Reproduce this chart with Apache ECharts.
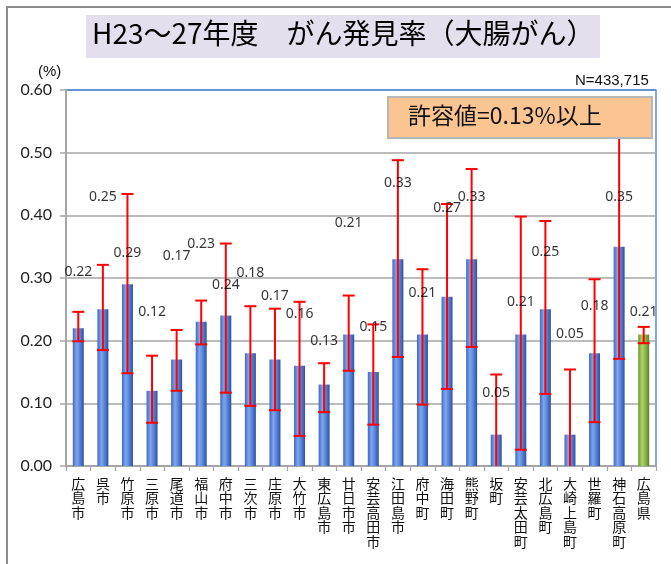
<!DOCTYPE html>
<html>
<head>
<meta charset="utf-8">
<script src="https://cdn.jsdelivr.net/npm/echarts@6/dist/echarts.min.js"></script>
<style>
  html, body { margin: 0; padding: 0; background: #fff; }
  #chart { width: 671px; height: 564px; }
</style>
</head>
<body>
<div id="chart"></div>
<script>
// 市町別 がん発見率（大腸がん） H23～27年度
const municipalities = ['広島市', '呉市', '竹原市', '三原市', '尾道市', '福山市', '府中市', '三次市',
  '庄原市', '大竹市', '東広島市', '廿日市市', '安芸高田市', '江田島市', '府中町', '海田町', '熊野町',
  '坂町', '安芸太田町', '北広島町', '大崎上島町', '世羅町', '神石高原町', '広島県'];

// 発見率 (%)
const detectionRate = [0.22, 0.25, 0.29, 0.12, 0.17, 0.23, 0.24, 0.18, 0.17, 0.16, 0.13, 0.21,
  0.15, 0.33, 0.21, 0.27, 0.33, 0.05, 0.21, 0.25, 0.05, 0.18, 0.35, 0.21];

// 95%信頼区間 下限・上限 (%)
const ciLower = [0.199, 0.185, 0.148, 0.069, 0.120, 0.194, 0.117, 0.096, 0.089, 0.048, 0.086, 0.152,
  0.066, 0.174, 0.098, 0.123, 0.190, -0.046, 0.026, 0.115, -0.054, 0.070, 0.171, 0.196];
const ciUpper = [0.246, 0.321, 0.434, 0.176, 0.217, 0.264, 0.355, 0.255, 0.251, 0.262, 0.164, 0.272,
  0.226, 0.488, 0.314, 0.418, 0.474, 0.146, 0.398, 0.391, 0.154, 0.298, 0.560, 0.222];

// 数値ラベルを置く高さ (%)
const labelLevel = [0.309, 0.429, 0.340, 0.245, 0.335, 0.355, 0.289, 0.308, 0.272, 0.243, 0.200, 0.388,
  0.221, 0.451, 0.276, 0.411, 0.429, 0.116, 0.261, 0.341, 0.211, 0.255, 0.430, 0.245];

const yTicks = [0, 0.1, 0.2, 0.3, 0.4, 0.5, 0.6];
const titleText = 'H23～27年度　がん発見率（大腸がん）';
const sampleSize = 'N=433,715';
const thresholdText = '許容値=0.13%以上';

const blueBar = new echarts.graphic.LinearGradient(0, 0, 1, 0, [
  { offset: 0, color: '#3D69C2' },
  { offset: 0.35, color: '#7FA6EE' },
  { offset: 0.65, color: '#5784DA' },
  { offset: 1, color: '#2C50A0' }
]);
const greenBar = new echarts.graphic.LinearGradient(0, 0, 1, 0, [
  { offset: 0, color: '#6A962C' },
  { offset: 0.35, color: '#AED468' },
  { offset: 0.65, color: '#8DB848' },
  { offset: 1, color: '#5A7F24' }
]);

const barData = detectionRate.map((v, i) => ({
  value: v,
  itemStyle: { color: i === detectionRate.length - 1 ? greenBar : blueBar }
}));
const ciData = detectionRate.map((v, i) => [i, ciLower[i], ciUpper[i]]);
const labelData = detectionRate.map((v, i) => [i, labelLevel[i]]);

const chart = echarts.init(document.getElementById('chart'), null, { renderer: 'canvas' });

const gridLineColor = '#A6A6A6';
const frameBlue = '#5B8BD0';

chart.setOption({
  animation: false,
  backgroundColor: '#ffffff',
  grid: {
    left: 66, right: 15, top: 90, bottom: 98,
    show: true, borderColor: frameBlue, borderWidth: 1.5
  },
  xAxis: {
    type: 'category',
    data: municipalities,
    axisLine: { lineStyle: { color: gridLineColor, width: 1.5 } },
    axisTick: { show: true, length: 5, lineStyle: { color: gridLineColor, width: 1.2 } },
    axisLabel: {
      interval: 0,
      margin: 10,
      fontFamily: 'Noto Sans CJK JP',
      fontSize: 14,
      lineHeight: 14.6,
      color: '#111',
      verticalAlign: 'top',
      formatter: name => name.split('').join('\n')
    }
  },
  yAxis: {
    type: 'value',
    min: yTicks[0],
    max: yTicks[yTicks.length - 1],
    interval: 0.1,
    axisLine: { show: true, lineStyle: { color: gridLineColor, width: 2 } },
    axisTick: { show: true, length: 6, lineStyle: { color: gridLineColor, width: 1.5 } },
    axisLabel: {
      margin: 14,
      fontFamily: 'Lato',
      fontSize: 16,
      color: '#222',
      formatter: v => v.toFixed(2)
    },
    splitLine: {
      lineStyle: {
        color: yTicks.map((t, i) => (i === yTicks.length - 1 ? frameBlue : gridLineColor)),
        width: 1.5
      }
    }
  },
  series: [
    {
      type: 'bar',
      data: barData,
      barWidth: 11,
      z: 2
    },
    {
      type: 'custom',
      z: 3,
      data: ciData,
      renderItem: (params, api) => {
        const i = api.value(0);
        const lo = api.value(1);
        const hi = api.value(2);
        const top = api.coord([i, hi]);
        const bottom = api.coord([i, Math.max(lo, 0)]);
        const half = 6;
        const style = { stroke: '#FF0000', lineWidth: 2 };
        const children = [
          { type: 'line', shape: { x1: top[0], y1: top[1], x2: bottom[0], y2: bottom[1] }, style },
          { type: 'line', shape: { x1: top[0] - half, y1: top[1], x2: top[0] + half, y2: top[1] }, style }
        ];
        if (lo >= 0) {
          children.push({ type: 'line', shape: { x1: bottom[0] - half, y1: bottom[1], x2: bottom[0] + half, y2: bottom[1] }, style });
        }
        return { type: 'group', children };
      }
    },
    {
      type: 'scatter',
      z: 4,
      data: labelData,
      symbolSize: 0,
      silent: true,
      label: {
        show: true,
        position: 'inside',
        fontFamily: 'Noto Sans',
        fontSize: 14,
        color: '#000',
        formatter: p => detectionRate[p.dataIndex].toFixed(2)
      }
    }
  ],
  graphic: [
    {
      type: 'rect', z: 0,
      shape: { x: 7, y: 7, width: 700, height: 600 },
      style: { fill: 'none', stroke: '#8C8C8C', lineWidth: 2 }
    },
    {
      type: 'rect', z: 10,
      shape: { x: 86, y: 15, width: 514, height: 43 },
      style: { fill: '#E4DFEC' }
    },
    {
      type: 'text', z: 11, left: 92, top: 19,
      style: { text: titleText, fontFamily: 'Noto Sans CJK JP', fontSize: 28, fill: '#000' }
    },
    {
      type: 'text', z: 11, left: 38, top: 64,
      style: { text: '(%)', fontFamily: 'Liberation Sans', fontSize: 15, fill: '#111' }
    },
    {
      type: 'text', z: 11, left: 575, top: 73,
      style: { text: sampleSize, fontFamily: 'Liberation Sans', fontSize: 15, fill: '#111' }
    },
    {
      type: 'rect', z: 20,
      shape: { x: 388, y: 97, width: 264, height: 41 },
      style: { fill: '#FBC592', stroke: '#B7B7B7', lineWidth: 2 }
    },
    {
      type: 'text', z: 21, left: 408, top: 104,
      style: { text: thresholdText, fontFamily: 'Noto Sans CJK JP', fontSize: 23, fill: '#111' }
    }
  ]
});
</script>
</body>
</html>
